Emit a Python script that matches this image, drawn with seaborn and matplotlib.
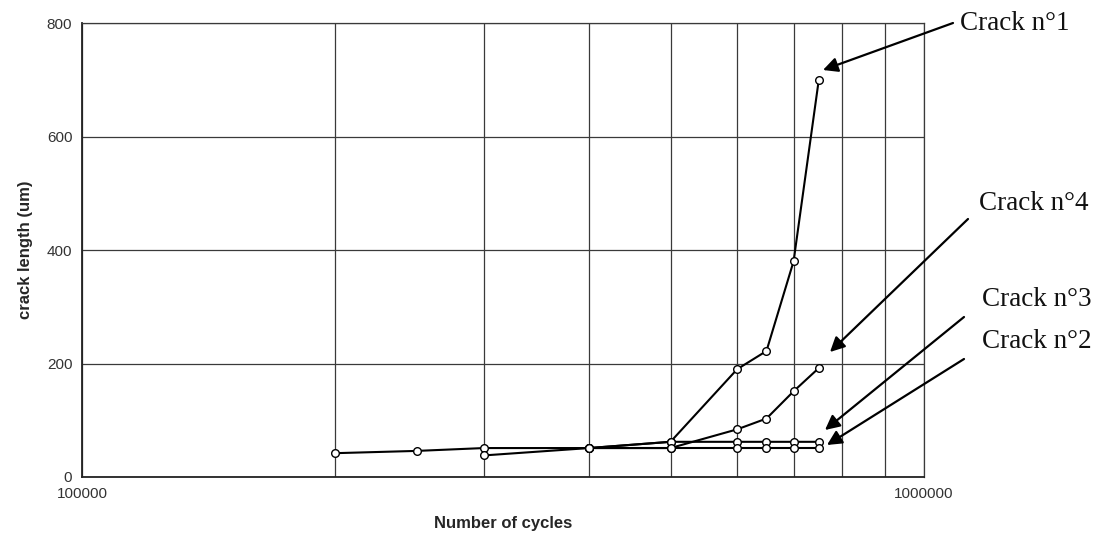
import seaborn as sns
import pandas as pd
import matplotlib.pyplot as plt
from matplotlib.ticker import NullFormatter

# crack length (um) measured against number of cycles
cycles_crack1 = [200000, 250000, 300000, 400000, 500000, 600000, 650000, 700000, 750000]
length_crack1 = [42, 46, 51, 51, 62, 190, 222, 380, 700]

cycles_crack4 = [300000, 400000, 500000, 600000, 650000, 700000, 750000]
length_crack4 = [38, 51, 51, 84, 103, 151, 192]

cycles_crack3 = [400000, 500000, 600000, 650000, 700000, 750000]
length_crack3 = [51, 62, 62, 62, 62, 62]

cycles_crack2 = [400000, 500000, 600000, 650000, 700000, 750000]
length_crack2 = [51, 51, 51, 51, 51, 51]

crack_names = ['Crack n°1', 'Crack n°4', 'Crack n°3', 'Crack n°2']
y_ticks = [0, 200, 400, 600, 800]
x_major = [100000, 1000000]
x_major_labels = ['100000', '1000000']
x_minor = [200000, 300000, 400000, 500000, 600000, 700000, 800000, 900000]

frames = []
for name, xs, ys in zip(crack_names,
                        [cycles_crack1, cycles_crack4, cycles_crack3, cycles_crack2],
                        [length_crack1, length_crack4, length_crack3, length_crack2]):
    frames.append(pd.DataFrame({'cycles': xs, 'length': ys, 'crack': name}))
df = pd.concat(frames, ignore_index=True)

sns.set_style('white')
plt.rcParams['font.family'] = ['Liberation Sans', 'DejaVu Sans']

W, H = 1099, 535
fig = plt.figure(figsize=(W / 100, H / 100), dpi=100)
ax = fig.add_axes([82 / W, 1 - 477 / H, (924 - 82) / W, (477 - 23) / H])


def px(x, y):
    # figure pixel (from top-left) to figure fraction
    return (x / W, 1 - y / H)


sns.lineplot(data=df, x='cycles', y='length', hue='crack', units='crack',
             estimator=None, sort=False, palette=['black'] * 4, legend=False,
             marker='o', markersize=5.5, markerfacecolor='white',
             markeredgecolor='black', markeredgewidth=1.0, linewidth=1.5,
             ax=ax, zorder=5)

ax.set_xscale('log')
ax.set_xlim(100000, 1000000)
ax.set_ylim(0, 800)
ax.set_xticks(x_major)
ax.set_xticklabels(x_major_labels)
ax.set_xticks(x_minor, minor=True)
ax.xaxis.set_minor_formatter(NullFormatter())
ax.set_yticks(y_ticks)
ax.set_yticklabels([str(v) for v in y_ticks])

ax.grid(True, which='both', axis='x', color='#3a3a3a', linewidth=0.9)
ax.grid(True, which='major', axis='y', color='#3a3a3a', linewidth=0.9)
for side in ['top', 'right']:
    ax.spines[side].set_color('#3a3a3a')
    ax.spines[side].set_linewidth(0.9)
for side in ['left', 'bottom']:
    ax.spines[side].set_color('#222222')
    ax.spines[side].set_linewidth(1.3)

ax.tick_params(axis='y', which='major', direction='out', length=5, width=1,
               color='#222222', labelsize=11, labelcolor='#333333', pad=2)
ax.tick_params(axis='x', which='major', direction='out', length=3, width=1,
               color='#222222', labelsize=11, labelcolor='#333333', pad=4)
ax.tick_params(axis='x', which='minor', length=0)

ax.set_xlabel('Number of cycles', fontsize=12, fontweight='bold', labelpad=11)
ax.set_ylabel('crack length (um)', fontsize=12, fontweight='bold', labelpad=10)

# labels and arrows on the right
label_pos = [(960, 23), (979, 203), (982, 300), (982, 342)]
arrow_tail = [(953, 23), (968, 219), (964, 317), (964, 359)]
arrow_tip = [(823, 70), (830, 352), (825, 430), (827, 445)]
for name, lp, tail, tip in zip(crack_names, label_pos, arrow_tail, arrow_tip):
    fig.text(*px(*lp), name, family=['Liberation Serif', 'DejaVu Serif'],
             fontsize=19.5, ha='left', va='center', color='#111111')
    ax.annotate('', xy=px(*tip), xycoords='figure fraction',
                xytext=px(*tail), textcoords='figure fraction',
                annotation_clip=False,
                arrowprops=dict(arrowstyle='-|>', color='black', lw=1.6,
                                mutation_scale=22, shrinkA=0, shrinkB=0))

fig.savefig('out.png', dpi=100, facecolor='white')
